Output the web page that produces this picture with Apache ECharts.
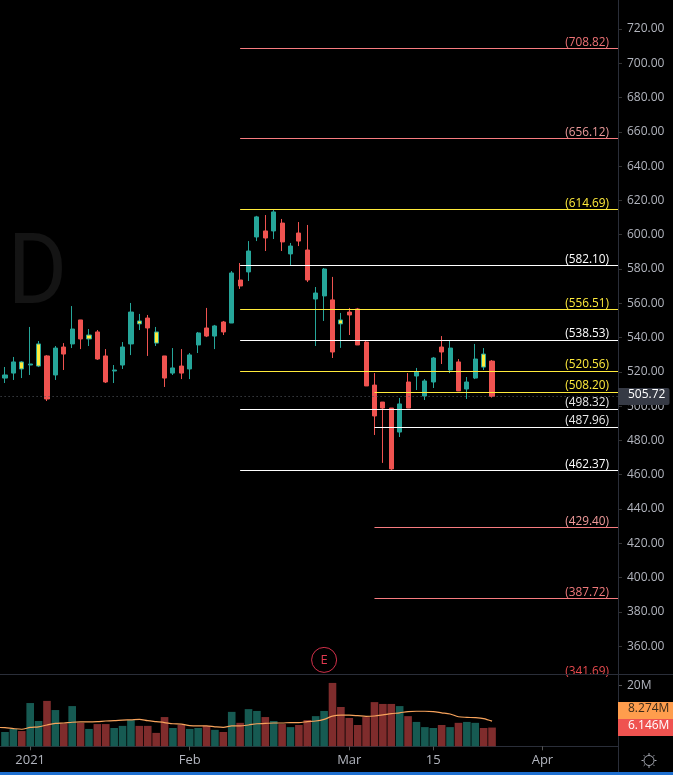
<!DOCTYPE html>
<html>
<head>
<meta charset="utf-8">
<style>html,body{margin:0;padding:0;background:#000}#c{width:673px;height:775px}</style>
<script src="https://cdn.jsdelivr.net/npm/echarts@6/dist/echarts.min.js"></script>
</head>
<body>
<div id="c"></div>
<script>
// Trading days, one blank slot before the first bar and blank future days after the last
const dates = ['', 'Dec 29','Dec 30','Dec 31',
 'Jan 4','Jan 5','Jan 6','Jan 7','Jan 8','Jan 11','Jan 12','Jan 13','Jan 14','Jan 15','Jan 19','Jan 20','Jan 21','Jan 22','Jan 25','Jan 26','Jan 27','Jan 28','Jan 29',
 'Feb 1','Feb 2','Feb 3','Feb 4','Feb 5','Feb 8','Feb 9','Feb 10','Feb 11','Feb 12','Feb 16','Feb 17','Feb 18','Feb 19','Feb 22','Feb 23','Feb 24','Feb 25','Feb 26',
 'Mar 1','Mar 2','Mar 3','Mar 4','Mar 5','Mar 8','Mar 9','Mar 10','Mar 11','Mar 12','Mar 15','Mar 16','Mar 17','Mar 18','Mar 19','Mar 22','Mar 23','Mar 24',
 'Mar 25','Mar 26','Mar 29','Mar 30','Mar 31','Apr 1','Apr 5','Apr 6','Apr 7','Apr 8','Apr 9','Apr 12','Apr 13','Apr 14','Apr 15'];
const tickLabels = {'Jan 4':'2021','Feb 1':'Feb','Mar 1':'Mar','Mar 15':'15','Apr 1':'Apr'};

const opens = [516.4,519.3,525.8,524.0,523.4,529.3,518.2,534.5,536.3,550.3,539.2,543.3,529.3,520.5,524.0,536.3,549.7,551.4,543.3,529.3,519.3,523.4,521.7,535.7,545.6,540.9,549.1,548.5,573.6,578.3,598.7,602.2,602.2,606.8,588.8,601.0,591.1,562.5,564.3,562.0,550.3,554.9,556.7,537.4,512.3,502.4,498.9,484.9,514.1,517.6,505.9,514.1,534.5,521.1,525.8,510.0,516.4,530.4,526.3];
const closes = [518.2,525.8,521.7,524.6,536.3,504.2,533.9,530.4,545.0,539.2,541.5,527.5,514.1,521.1,534.5,554.9,548.0,545.6,536.8,516.4,522.3,519.3,529.9,542.7,540.9,546.8,543.3,577.7,570.1,590.5,610.4,598.1,613.3,595.8,593.4,596.3,573.6,566.0,580.0,531.6,548.0,553.2,535.7,511.8,494.3,498.9,463.4,501.3,498.9,519.9,514.7,528.1,531.6,533.9,508.9,514.1,527.5,522.8,505.72];
const lows = [513.5,515.3,516.4,518.2,522.8,503.0,515.3,521.1,533.9,533.3,535.1,527.0,513.5,513.5,521.7,529.8,544.4,529.3,535.1,511.2,518.2,515.8,515.8,531.0,540.3,533.3,541.5,548.5,568.4,573.0,596.3,590.5,597.5,590.5,582.3,593.4,572.4,535.1,549.7,528.1,534.0,541.5,535.7,511.8,483.2,466.9,462.8,482.0,498.9,509.4,503.6,510.6,524.6,519.3,508.9,504.2,515.8,521.1,505.0];
const highs = [522.85,528.7,526.3,546.2,538.0,529.8,535.1,536.8,558.4,550.3,545.0,544.4,533.3,524.0,537.4,560.2,553.8,553.2,546.2,529.3,533.9,533.3,531.0,543.3,557.3,547.4,549.7,578.8,583.5,596.3,611.0,611.5,614.4,609.2,595.2,607.4,605.7,569.5,580.6,575.4,554.4,557.3,557.3,538.0,519.3,502.4,498.9,504.8,519.3,522.3,515.8,528.7,540.9,538.6,527.5,517.0,536.3,533.9,526.9];
const highlighted = ['Dec 31','Jan 5','Jan 13','Jan 22','Jan 26','Feb 26','Mar 23'];

const volumeM = [4.7,5.7,5.0,14.2,8.3,14.9,11.9,7.5,13.2,7.7,5.7,7.3,7.3,6.0,6.7,8.6,6.7,6.7,4.4,9.6,6.0,7.0,5.7,6.0,6.7,5.4,4.7,11.3,7.7,12.2,11.6,9.6,8.3,7.3,6.3,7.0,8.6,9.9,11.6,20.8,12.9,9.3,7.0,9.6,14.5,13.9,13.9,13.2,9.9,8.0,6.3,6.0,7.0,6.3,7.7,8.0,7.7,6.0,6.146];
const volumeUp = [1,1,0,1,1,0,1,0,1,0,1,0,0,1,1,1,0,0,0,0,1,0,1,1,0,1,0,1,0,1,1,0,1,0,1,0,0,1,1,0,0,0,0,0,0,0,0,1,0,1,1,1,0,1,0,1,1,0,0];
const volumeMA = [6.2,6.1,5.8,5.6,6.2,6.4,7.0,7.5,7.65,7.9,8.0,8.0,8.1,8.3,8.4,8.6,8.7,8.85,8.4,8.1,7.8,7.4,7.3,6.8,6.7,6.7,6.4,6.2,6.7,6.7,7.0,7.4,7.5,7.65,7.65,7.8,7.8,8.1,8.3,8.85,9.9,10.2,10.2,10.05,9.85,9.95,10.3,10.7,11.0,11.4,11.5,11.5,11.4,11.0,10.6,9.7,9.5,9.4,9.1,8.274];

const fibValues = [708.82,656.12,614.69,582.10,556.51,538.53,520.56,508.20,498.32,487.96,462.37,429.40,387.72,341.69];
const fibStarts = ['Feb 9','Feb 9','Feb 9','Feb 9','Feb 9','Feb 9','Feb 9','Mar 4','Feb 9','Mar 4','Feb 9','Mar 4','Mar 4','Mar 4'];
const fibLineColors = ['#f77c80','#f77c80','#ffeb3b','#ffffff','#ffeb3b','#ffffff','#ffeb3b','#ffeb3b','#ffffff','#ffffff','#ffffff','#f77c80','#f77c80','transparent'];
const fibTextColors = ['#ee7275','#ec9a9a','#ffeb3b','#ffffff','#ffeb3b','#ffffff','#ffeb3b','#ffeb3b','#e8e8e8','#e8e8e8','#ffffff','#f09a9a','#f07a7c','#e84a4e'];

const priceTicks = [360,380,400,420,440,460,480,500,520,540,560,580,600,620,640,660,680,700,720];
const lastPrice = 505.72;
const earningsDate = 'Feb 24';
const earningsMarkerPrice = 352;

const FONT = '"Open Sans", sans-serif';
const UP = '#26a69a', DOWN = '#ef5350';
const lastCat = dates[dates.length - 1];
const barDates = dates.slice(1, 60);

const candleData = barDates.map((d, i) => {
  const o = {value: [opens[i], closes[i], lows[i], highs[i]]};
  if (highlighted.includes(d)) o.itemStyle = {color: '#ffeb3b', color0: '#ffeb3b', borderColor: UP, borderColor0: DOWN, borderWidth: 1};
  return o;
});

const fibLines = fibValues.map((v, i) => [
  {coord: [fibStarts[i], v], lineStyle: {color: fibLineColors[i], width: 1, type: 'solid'},
   label: {show: true, position: 'insideEndTop', distance: [9, 0], formatter: '(' + v.toFixed(2) + ')',
           color: fibTextColors[i], fontSize: 11.8, fontFamily: FONT}},
  {coord: [lastCat, v]}
]);
const lastLine = [
  {coord: [dates[0], lastPrice], lineStyle: {color: '#555a60', width: 1, type: [1, 3]}, label: {show: false}},
  {coord: [lastCat, lastPrice]}
];

const rays = [[649,753,649,755],[649,766,649,768],[641.5,760.5,643.5,760.5],[654.5,760.5,656.5,760.5],
  [643.7,755.2,645,756.5],[653,764.5,654.3,765.8],[654.3,755.2,653,756.5],[645,764.5,643.7,765.8]];

const option = {
  backgroundColor: '#000',
  animation: false,
  grid: [
    {left: -3.4, width: 621.4, top: 0, height: 678.5, containLabel: false, outerBoundsMode: 'none'},
    {left: -3.4, width: 621.4, top: 675, height: 71.3, containLabel: false, outerBoundsMode: 'none'}
  ],
  xAxis: [
    {type: 'category', gridIndex: 0, data: dates, boundaryGap: false, show: false},
    {type: 'category', gridIndex: 1, data: dates, boundaryGap: false,
     axisLine: {show: true, lineStyle: {color: '#2a2e39'}},
     axisTick: {show: true, length: 4, lineStyle: {color: '#555'},
                interval: (i, v) => v in tickLabels},
     axisLabel: {show: true, interval: (i, v) => v in tickLabels, formatter: v => tickLabels[v] || '',
                 color: '#b2b5be', fontSize: 13, fontFamily: FONT, margin: 7, hideOverlap: false},
     splitLine: {show: false}}
  ],
  yAxis: [
    {type: 'value', gridIndex: 0, position: 'right', min: 341.15, max: 736.92, scale: true,
     axisLine: {show: false},
     axisTick: {show: true, length: 4, inside: false, customValues: priceTicks, lineStyle: {color: '#333'}},
     axisLabel: {show: true, customValues: priceTicks, formatter: v => v.toFixed(2), color: '#b2b5be', fontSize: 12, fontFamily: FONT, margin: 9},
     splitLine: {show: false}},
    {type: 'value', gridIndex: 1, position: 'right', min: 0, max: 23.4,
     axisLine: {show: false},
     axisTick: {show: true, length: 4, customValues: [20], lineStyle: {color: '#555'}},
     axisLabel: {show: true, customValues: [20], formatter: v => v + 'M', color: '#b2b5be', fontSize: 12, fontFamily: FONT, margin: 9},
     splitLine: {show: false}}
  ],
  series: [
    {type: 'candlestick', xAxisIndex: 0, yAxisIndex: 0, barWidth: 4.6, z: 3, clip: false,
     data: [{value: ['-', '-', '-', '-']}].concat(candleData),
     itemStyle: {color: UP, color0: DOWN, borderColor: UP, borderColor0: DOWN, borderWidth: 1},
     markLine: {silent: true, symbol: 'none', animation: false, z: 4, data: fibLines.concat([lastLine])},
     markPoint: {silent: true, animation: false, data: [{
       coord: [earningsDate, earningsMarkerPrice], symbol: 'circle', symbolSize: 25,
       itemStyle: {color: 'rgba(0,0,0,0)', borderColor: '#d1304a', borderWidth: 1},
       label: {show: true, position: 'inside', formatter: 'E', color: '#e0394f', fontSize: 13, fontFamily: FONT}
     }]}},
    {type: 'bar', xAxisIndex: 1, yAxisIndex: 1, barWidth: 7.6, z: 2,
     data: ['-'].concat(volumeM.map((v, i) => ({value: v, itemStyle: {color: volumeUp[i] ? '#165a52' : '#7f2c2c'}})))},
    {type: 'line', xAxisIndex: 1, yAxisIndex: 1, smooth: 0.3, symbol: 'none', z: 3,
     data: volumeMA, lineStyle: {color: '#f7a35c', width: 1.2}}
  ],
  graphic: [
    {type: 'text', x: 7.5, y: 229, scaleX: 0.93, z: -1, silent: true,
     style: {text: 'D', fill: '#141414', font: '400 98px Roboto, sans-serif'}},
    {type: 'rect', shape: {x: 0, y: 674, width: 673, height: 1}, style: {fill: '#2a2e39'}, z: 5, silent: true},
    {type: 'rect', shape: {x: 618, y: 0, width: 1, height: 775}, style: {fill: '#2a2e39'}, z: 5, silent: true},
    {type: 'rect', shape: {x: 0, y: 772, width: 673, height: 3}, style: {fill: '#1e6fd0'}, z: 5, silent: true},
    // price tag
    {type: 'rect', shape: {x: 618, y: 388, width: 51.5, height: 17, r: [0, 2, 2, 0]}, style: {fill: '#363a45'}, z: 20, silent: true},
    {type: 'text', x: 628, y: 389, z: 21, silent: true, style: {text: lastPrice.toFixed(2), fill: '#fff', font: '12px "Open Sans", sans-serif'}},
    // volume tags
    {type: 'rect', shape: {x: 618, y: 702, width: 55, height: 17}, style: {fill: '#ff9d4d'}, z: 20, silent: true},
    {type: 'text', x: 628, y: 703, z: 21, silent: true, style: {text: volumeMA[59] + 'M', fill: '#3b2a18', font: '12px "Open Sans", sans-serif'}},
    {type: 'rect', shape: {x: 618, y: 719, width: 55, height: 17}, style: {fill: '#ef5350'}, z: 20, silent: true},
    {type: 'text', x: 628, y: 720, z: 21, silent: true, style: {text: volumeM[58] + 'M', fill: '#fff', font: '12px "Open Sans", sans-serif'}},
    // settings icon
    {type: 'circle', shape: {cx: 649, cy: 760.5, r: 5}, style: {fill: 'none', stroke: '#a6a9b2', lineWidth: 1}, z: 20, silent: true}
  ].concat(rays.map(r => ({type: 'line', shape: {x1: r[0], y1: r[1], x2: r[2], y2: r[3]}, style: {stroke: '#a6a9b2', lineWidth: 1}, z: 20, silent: true})))
};
const chart = echarts.init(document.getElementById('c'), null, {renderer: 'canvas'});
chart.setOption(option);
</script>
</body>
</html>
